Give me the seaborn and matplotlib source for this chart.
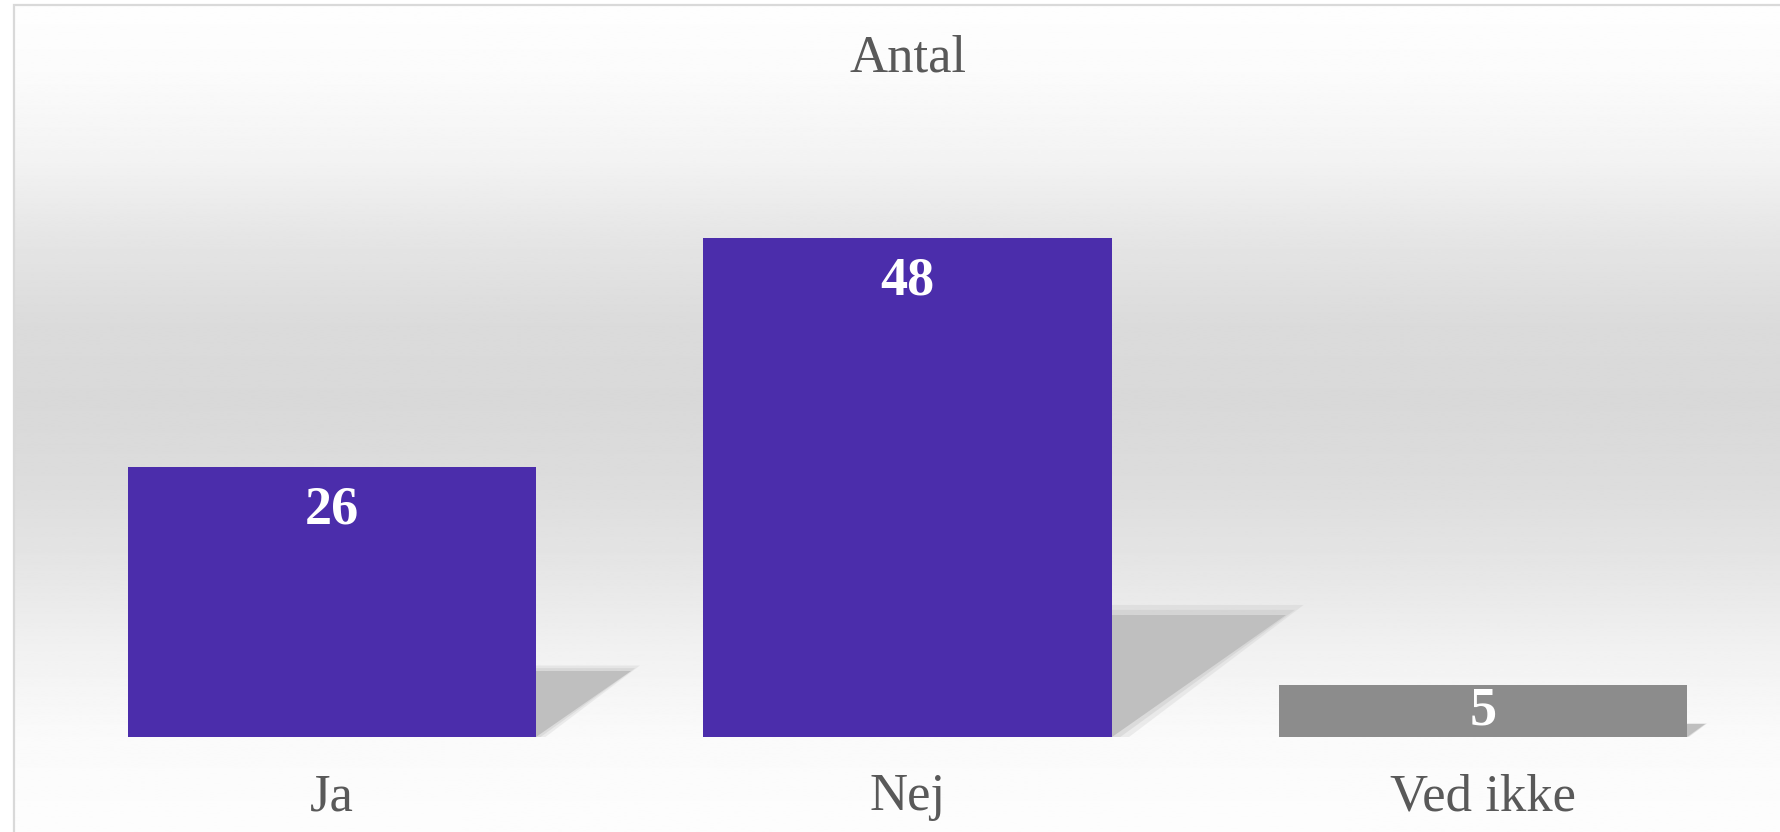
import numpy as np
import pandas as pd
import matplotlib
matplotlib.use("Agg")
import matplotlib.pyplot as plt
from matplotlib.patches import Rectangle
import seaborn as sns

# ---- data ----
categories = ["Ja", "Nej", "Ved ikke"]
values = [26, 48, 5]
title = "Antal"
bar_colors = ["#4b2dab", "#4b2dab", "#8c8c8c"]

sns.set_style("white")
plt.rcParams['font.family'] = ['Liberation Serif', 'DejaVu Serif']

W, H = 1780, 832
fig = plt.figure(figsize=(W / 100, H / 100), dpi=100)
fig.patch.set_facecolor("white")

# ---- gradient background inside the frame ----
bg = fig.add_axes([14 / W, 0, 1 - 14 / W, 1 - 5 / H])
stop_pos = [0.0, 0.08, 0.18, 0.28, 0.38, 0.48, 0.58, 0.68, 0.78, 0.88, 1.0]
stop_val = [0.995, 0.985, 0.955, 0.9, 0.86, 0.85, 0.865, 0.9, 0.945, 0.98, 0.992]
yy = np.linspace(0, 1, 500)
g = np.interp(yy, stop_pos, stop_val)
bg.imshow(np.repeat(g[:, None], 2, axis=1), cmap="gray", vmin=0, vmax=1,
          aspect="auto", interpolation="bilinear")
bg.set_axis_off()
fig.patches.append(Rectangle((14 / W, -0.02), 1.0, 1 - 5 / H + 0.02,
                             transform=fig.transFigure, fill=False,
                             edgecolor="#d9d9d9", lw=1.6, zorder=5))

# ---- main axes ----
ax = fig.add_axes([44 / W, 95 / H, 1727 / W, 623.75 / H])
ax.patch.set_alpha(0)
df = pd.DataFrame({"cat": categories, "val": values})
sns.barplot(data=df, x="cat", y="val", hue="cat", palette=bar_colors,
            width=0.709, saturation=1, legend=False, ax=ax, zorder=3,
            edgecolor="none", linewidth=0)

# perspective shadows derived from the bars (soft edge by layering)
for p in list(ax.patches):
    xr = p.get_x() + p.get_width()
    v = p.get_height()
    hs = 0.245 * v
    dx = v * 0.00632
    for k, a in [(1.10, 0.25), (1.05, 0.35), (1.0, 1.0)]:
        ax.fill([xr, xr, xr + dx * k, xr + dx * (k - 1.0)],
                [0, hs * (1 + (k - 1) * 0.8), hs * (1 + (k - 1) * 0.8), 0],
                color="#bfbfbf", alpha=a, lw=0, zorder=2)

ax.set_xlim(-0.5, 2.5)
ax.set_ylim(0, 60)
ax.set_yticks([])
ax.set_xlabel("")
ax.set_ylabel("")
for s in ax.spines.values():
    s.set_visible(False)
ax.tick_params(axis="x", length=0, pad=26, labelsize=38, labelcolor="#595959")

# value labels
for i, v in enumerate(values):
    y = max(v - 4.2, v / 2)
    ax.text(i, y, str(v), ha="center", va="center", color="white",
            fontsize=39, fontweight="bold", zorder=4)

fig.text(907.5 / W, 1 - 59 / H, title, ha="center", va="center",
         fontsize=38, color="#595959")

fig.savefig("out.png", dpi=100)
